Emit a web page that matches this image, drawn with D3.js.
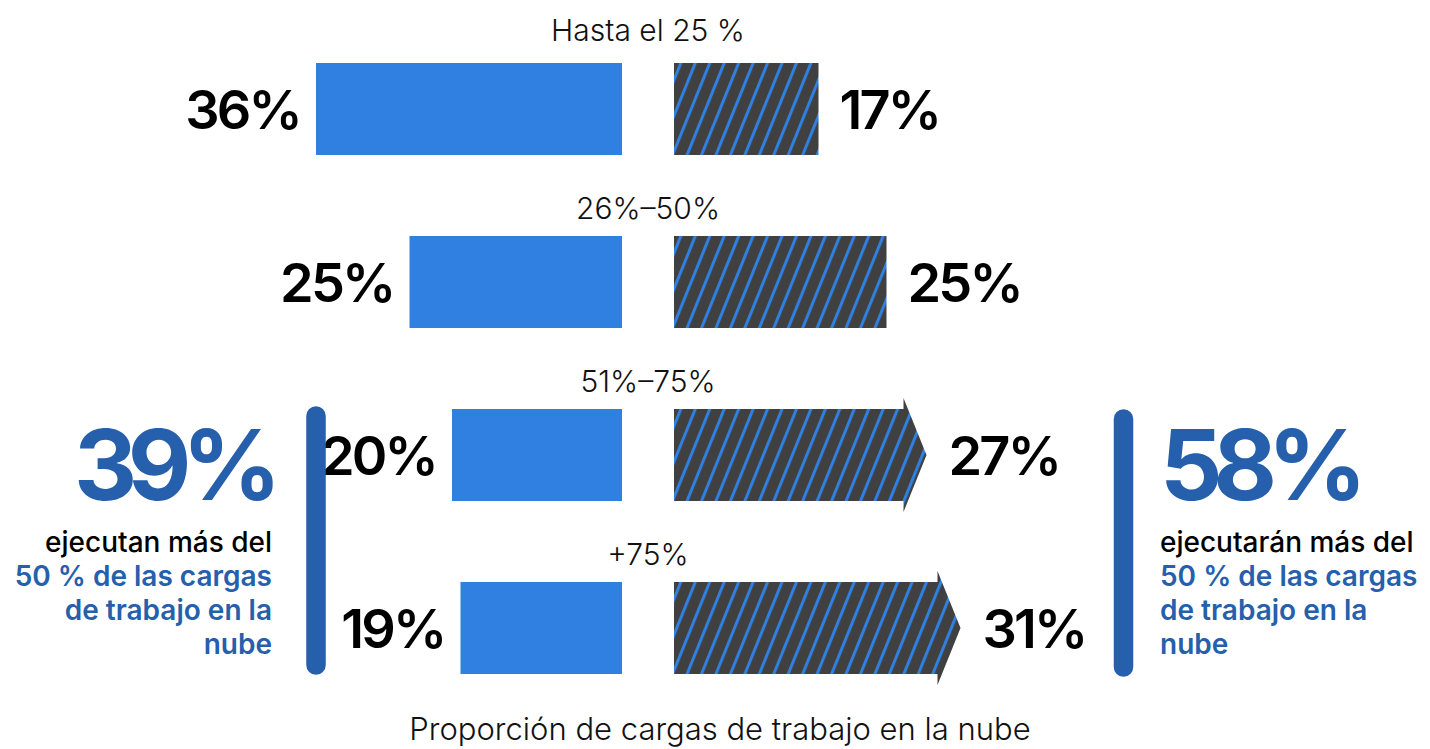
<!DOCTYPE html>
<html>
<head>
<meta charset="utf-8">
<script src="https://cdnjs.cloudflare.com/ajax/libs/d3/7.8.5/d3.min.js"></script>
<style>
	html, body { margin: 0; padding: 0; background: #fff; }
	svg { display: block; font-family: Inter, "Noto Sans", sans-serif; }
</style>
</head>
<body>
<svg id="chart" width="1430" height="749"></svg>
<script>
var categories = ['Hasta el 25 %', '26%–50%', '51%–75%', '+75%'];
var todayValues = [36, 25, 20, 19];
var futureValues = [17, 25, 27, 31];
var arrowRows = ['51%–75%', '+75%'];

var leftSummary = ['39%', 'ejecutan más del', '50 % de las cargas', 'de trabajo en la', 'nube'];
var rightSummary = ['58%', 'ejecutarán más del', '50 % de las cargas', 'de trabajo en la', 'nube'];
var axisTitle = 'Proporción de cargas de trabajo en la nube';

var blue = '#2f80e1';
var darkBlue = '#265fab';
var hatchBg = '#404040';

var rows = categories.map(function (c, i) {
	return { cat: c, today: todayValues[i], future: futureValues[i], arrow: arrowRows.indexOf(c) >= 0 };
});

var svg = d3.select('#chart');

var mid = 648;
var gap = 26;
var barH = 92;

var y = d3.scalePoint()
	.domain(categories)
	.range([63, 582]);

var len = d3.scaleLinear()
	.domain([0, 10])
	.range([0, 85]);

// stripes for the future bars
var defs = svg.append('defs');
var pat = defs.append('pattern')
	.attr('id', 'hatch')
	.attr('patternUnits', 'userSpaceOnUse')
	.attr('width', 13.4)
	.attr('height', 20)
	.attr('patternTransform', 'rotate(22)');
pat.append('rect')
	.attr('width', 13.4)
	.attr('height', 20)
	.attr('fill', hatchBg);
pat.append('rect')
	.attr('x', 0)
	.attr('width', 3)
	.attr('height', 20)
	.attr('fill', blue);

var g = svg.selectAll('g.row')
	.data(rows)
	.enter()
	.append('g')
	.attr('class', 'row')
	.attr('transform', function (d) { return 'translate(0,' + y(d.cat) + ')'; });

g.append('text')
	.attr('x', mid)
	.attr('y', function (d, i) { return i === 0 ? -22 : -17; })
	.attr('text-anchor', 'middle')
	.attr('font-size', 30)
	.attr('font-weight', 300)
	.attr('fill', '#111')
	.text(function (d) { return d.cat; });

g.append('rect')
	.attr('x', function (d) { return mid - gap - len(d.today); })
	.attr('y', 0)
	.attr('width', function (d) { return len(d.today); })
	.attr('height', barH)
	.attr('fill', blue);

function futurePath (d) {
	var x0 = mid + gap;
	var x1 = x0 + len(d.future);
	var p = d3.path();
	p.moveTo(x0, 0);
	p.lineTo(x1, 0);
	if (d.arrow) {
		p.lineTo(x1, -11);
		p.lineTo(x1 + 23, barH / 2);
		p.lineTo(x1, barH + 11);
	}
	p.lineTo(x1, barH);
	p.lineTo(x0, barH);
	p.closePath();
	return p.toString();
}

g.append('path')
	.attr('d', futurePath)
	.attr('fill', 'url(#hatch)');

g.append('text')
	.attr('x', function (d) { return mid - gap - len(d.today) - 16; })
	.attr('y', barH / 2 + 20)
	.attr('text-anchor', 'end')
	.attr('class', 'val')
	.text(function (d) { return d.today + '%'; });

g.append('text')
	.attr('x', function (d) { return mid + gap + len(d.future) + (d.arrow ? 45 : 21); })
	.attr('y', barH / 2 + 20)
	.attr('class', 'val')
	.text(function (d) { return d.future + '%'; });

svg.selectAll('text.val')
	.attr('font-size', 54)
	.attr('font-weight', 600)
	.attr('letter-spacing', -2.8)
	.attr('fill', '#000');

// brackets around the two upper groups
var bracketTop = y(categories[2]);
var bracketBottom = y(categories[3]) + barH;
[[316, bracketTop - 3, bracketBottom + 1], [1123.5, bracketTop, bracketBottom + 3]].forEach(function (b) {
	svg.append('line')
		.attr('x1', b[0])
		.attr('x2', b[0])
		.attr('y1', b[1] + 10)
		.attr('y2', b[2] - 10)
		.attr('stroke', darkBlue)
		.attr('stroke-width', 19.5)
		.attr('stroke-linecap', 'round');
});

function summary (lines, x, anchor) {
	var s = svg.append('g');
	s.append('text')
		.attr('x', x)
		.attr('y', 500)
		.attr('text-anchor', anchor)
		.attr('font-size', 98)
		.attr('font-weight', 700)
		.attr('letter-spacing', -9.5)
		.attr('fill', darkBlue)
		.text(lines[0]);
	s.selectAll('text.sub')
		.data(lines.slice(1))
		.enter()
		.append('text')
		.attr('class', 'sub')
		.attr('x', x)
		.attr('y', function (d, i) { return 552 + i * 34; })
		.attr('text-anchor', anchor)
		.attr('font-size', 28)
		.attr('font-weight', function (d, i) { return i === 0 ? 500 : 600; })
		.attr('fill', function (d, i) { return i === 0 ? '#000' : darkBlue; })
		.text(function (d) { return d; });
}

summary(leftSummary, 272, 'end');
summary(rightSummary, 1160, 'start');

svg.append('text')
	.attr('x', 720)
	.attr('y', 740)
	.attr('text-anchor', 'middle')
	.attr('font-size', 31)
	.attr('font-weight', 300)
	.attr('fill', '#111')
	.text(axisTitle);
</script>
</body>
</html>
